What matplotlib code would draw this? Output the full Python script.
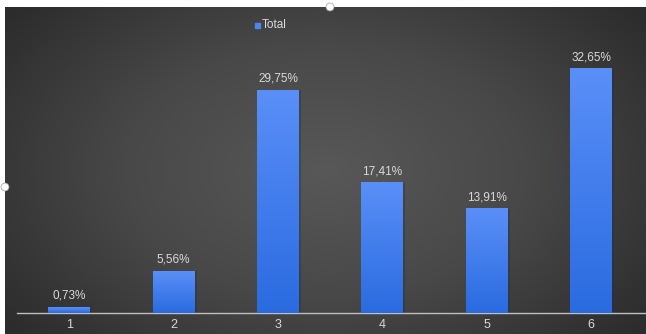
import numpy as np
import matplotlib
matplotlib.use("Agg")
import matplotlib.pyplot as plt
from matplotlib.colors import LinearSegmentedColormap
from matplotlib.patches import Ellipse

plt.rcParams['font.family'] = ['Liberation Sans', 'DejaVu Sans']

categories = ["1", "2", "3", "4", "5", "6"]
values = [0.73, 5.56, 29.75, 17.41, 13.91, 32.65]
labels = ["0,73%", "5,56%", "29,75%", "17,41%", "13,91%", "32,65%"]
series_name = "Total"

W, H = 646, 334
fig = plt.figure(figsize=(W / 100, H / 100), dpi=100)
fig.patch.set_facecolor("white")

# dark radial-gradient panel behind the chart
bg = fig.add_axes([5 / W, 0, 1 - 5 / W, (H - 7) / H])
bg.set_axis_off()
yy, xx = np.mgrid[-1:1:300j, -1:1:600j]
r = np.sqrt((xx / 1.05) ** 2 + (yy / 1.3) ** 2)
bg_cmap = LinearSegmentedColormap.from_list("bg", ["#585858", "#484848", "#2c2c2c"])
bg.imshow(r, cmap=bg_cmap, aspect="auto", extent=[0, 1, 0, 1], vmin=0, vmax=1.2)
bg.set_xlim(0, 1)
bg.set_ylim(0, 1)

ax = fig.add_axes([17 / W, 21 / H, (645 - 17) / W, (313 - 51) / H])
ax.set_facecolor("none")
x = np.arange(1, len(values) + 1)

bar_w = 0.4
bar_cmap = LinearSegmentedColormap.from_list("bar", ["#2a6be0", "#5a8ff8"])
grad = np.linspace(0, 1, 256).reshape(-1, 1)
for xi, v, lab in zip(x, values, labels):
    # slight shadow on the right side
    ax.bar(xi + 0.02, v, width=bar_w, color="#1f2d4a", alpha=0.35, zorder=2)
    ax.imshow(grad, cmap=bar_cmap, aspect="auto", origin="lower",
              extent=[xi - bar_w / 2, xi + bar_w / 2, 0, v], zorder=3)
    ax.annotate(lab, (xi, v), xytext=(0, 4), textcoords="offset points",
                ha="center", va="bottom", color="#d9d9d9", fontsize=8.5, zorder=4)
ax.set_xlim(0.5, 6.517)
ax.set_ylim(0, 35)

for s in ["top", "right", "left"]:
    ax.spines[s].set_visible(False)
ax.spines["bottom"].set_color("#bfbfbf")
ax.spines["bottom"].set_linewidth(1.0)
ax.set_yticks([])
ax.set_xticks(x)
ax.set_xticklabels(categories, color="#d9d9d9", fontsize=9)
ax.tick_params(axis="x", length=0, pad=4)

# legend
fig.patches.append(plt.Rectangle((255 / W, 1 - 28 / H), 5 / W, 5 / H,
                                 transform=fig.transFigure, color="#4a85f0"))
fig.text(262 / W, 1 - 25.5 / H, series_name, color="#d9d9d9", fontsize=8.5,
         va="center", ha="left")

# selection handles
for cx, cy in [(330, 7), (5, 187)]:
    fig.patches.append(Ellipse((cx / W, 1 - cy / H), 8 / W, 8 / H, transform=fig.transFigure,
                               facecolor="white", edgecolor="#999999", lw=0.5))

fig.savefig("out.png", dpi=100)
